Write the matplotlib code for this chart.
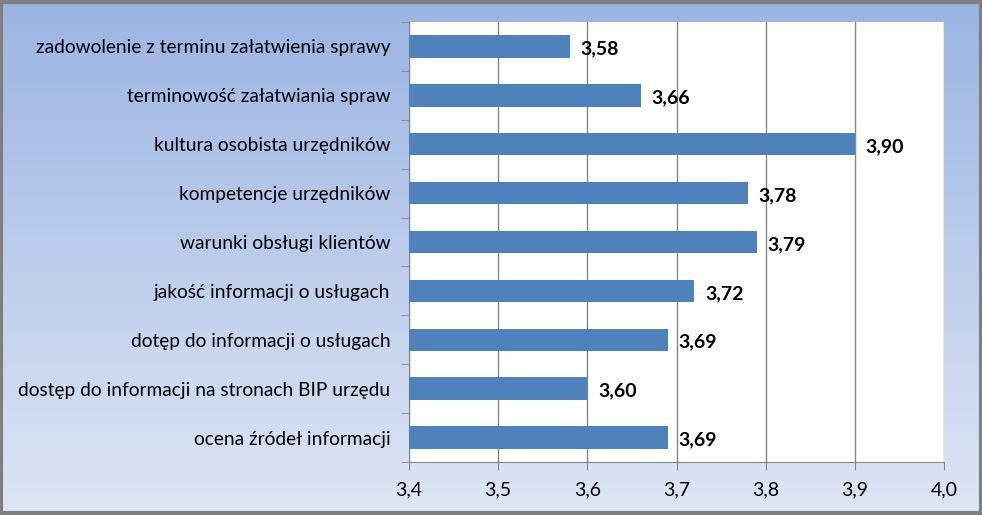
import numpy as np
import matplotlib
matplotlib.use('Agg')
import matplotlib.pyplot as plt
from matplotlib.patches import Rectangle

# dane
categories = ['zadowolenie z terminu załatwienia sprawy',
              'terminowość załatwiania spraw',
              'kultura osobista urzędników',
              'kompetencje urzędników',
              'warunki obsługi klientów',
              'jakość informacji o usługach',
              'dotęp do informacji o usługach',
              'dostęp do informacji na stronach BIP urzędu',
              'ocena źródeł informacji']
values = [3.58, 3.66, 3.90, 3.78, 3.79, 3.72, 3.69, 3.60, 3.69]
x_ticks = [3.4, 3.5, 3.6, 3.7, 3.8, 3.9, 4.0]

W, H = 982, 515
fig = plt.figure(figsize=(W / 100, H / 100), dpi=100)
plt.rcParams['font.family'] = ['Lato', 'DejaVu Sans']

# tło z gradientem
bg = fig.add_axes([0, 0, 1, 1], zorder=0)
grad = np.linspace(0, 1, 256).reshape(-1, 1)
top = np.array([0x9a, 0xb4, 0xe3]) / 255
bot = np.array([0xde, 0xe6, 0xf4]) / 255
img = top[None, None, :] * (1 - grad[:, :, None]) + bot[None, None, :] * grad[:, :, None]
bg.imshow(img, aspect='auto', extent=[0, 1, 0, 1])
bg.set_axis_off()
fig.patches.append(Rectangle((0.0015, 0.003), 0.997, 0.994, transform=fig.transFigure,
                             fill=False, edgecolor='#7f7f7f', linewidth=3, zorder=10))

ax = fig.add_axes([409 / W, 1 - 462 / H, (944 - 409) / W, (462 - 22) / H], zorder=1)
ax.set_facecolor('white')
y = np.arange(len(categories))
ax.barh(y, [v - 3.4 for v in values], left=3.4, height=0.46, color='#4f81bd', zorder=3)
for yi, v in zip(y, values):
    ax.text(v + 0.012, yi + 0.05, f'{v:.2f}'.replace('.', ','), va='center', ha='left',
            fontsize=14, fontweight='bold', color='black', zorder=4)

ax.set_xlim(3.4, 4.0)
ax.set_ylim(len(categories) - 0.5, -0.5)
ax.set_xticks(x_ticks)
ax.set_xticklabels([f'{t:.1f}'.replace('.', ',') for t in x_ticks], fontsize=14)
ax.set_yticks(np.arange(len(categories) + 1) - 0.5, minor=True)
ax.set_yticks(y)
ax.set_yticklabels(categories, fontsize=13.8)
ax.tick_params(axis='y', which='major', length=0, pad=13.5)
ax.tick_params(axis='y', which='minor', length=6, color='#868686')
ax.tick_params(axis='x', length=6, color='#868686', pad=8)
ax.grid(axis='x', color='#868686', linewidth=1, zorder=1)
for s in ['top', 'right']:
    ax.spines[s].set_visible(False)
ax.spines['left'].set_color('#868686')
ax.spines['bottom'].set_color('#868686')

fig.savefig('out.png', dpi=100)
